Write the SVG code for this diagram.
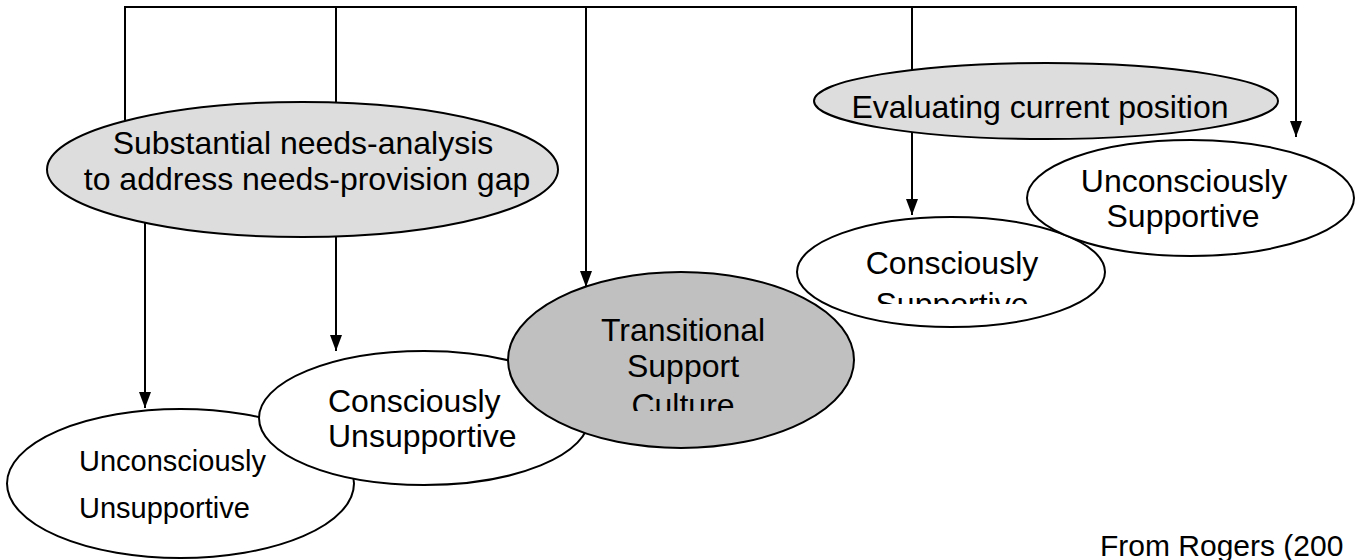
<svg xmlns="http://www.w3.org/2000/svg" width="1355" height="560" viewBox="0 0 1355 560">
<style>
.ln{fill:none;stroke:#000;stroke-width:2}
.el{stroke:#000;stroke-width:2}
.w{fill:#fff}
.g1{fill:#dddddd}
.g2{fill:#c0c0c0}
text{font-family:"Liberation Sans",Arial,Helvetica,sans-serif;fill:#000}
.t32{font-size:32px}
.t29{font-size:29px}
.t30{font-size:30px}
.c{text-anchor:middle}
</style>
<defs>
<marker id="arr" markerUnits="userSpaceOnUse" viewBox="0 0 16 12" markerWidth="16" markerHeight="12" refX="16" refY="6" orient="auto">
<path d="M0,0 L16,6 L0,12 z" fill="#000"/>
</marker>
<clipPath id="clipCulture"><rect x="500" y="380" width="360" height="31"/></clipPath>
<clipPath id="clipSupp"><rect x="800" y="280" width="300" height="24"/></clipPath>
</defs>
<rect width="1355" height="560" fill="#fff"/>
<g id="connectors">
<path class="ln" d="M125,120 V7 H1296 V137" marker-end="url(#arr)"/>
<path class="ln" d="M336,7 V110"/>
<path class="ln" d="M586,7 V287" marker-end="url(#arr)"/>
<path class="ln" d="M912,7 V215" marker-end="url(#arr)"/>
<path class="ln" d="M145,200 V408" marker-end="url(#arr)"/>
<path class="ln" d="M336,220 V351" marker-end="url(#arr)"/>
</g>
<g id="node-unconsciously-unsupportive">
<ellipse class="el w" cx="180.5" cy="483.5" rx="173.5" ry="74.5"/>
<text class="t29" x="79" y="471">Unconsciously</text>
<text class="t29" x="79" y="518">Unsupportive</text>
</g>
<g id="node-consciously-unsupportive">
<ellipse class="el w" cx="424" cy="418" rx="165" ry="67"/>
<text class="t32" x="328" y="412">Consciously</text>
<text class="t32" x="328" y="447">Unsupportive</text>
</g>
<g id="node-transitional">
<ellipse class="el g2" cx="681" cy="360" rx="173" ry="88"/>
<text class="t32 c" x="683" y="341">Transitional</text>
<text class="t32 c" x="683" y="377">Support</text>
<text class="t32 c" x="683" y="416" clip-path="url(#clipCulture)">Culture</text>
</g>
<g id="node-consciously-supportive">
<ellipse class="el w" cx="951" cy="272" rx="154" ry="55"/>
<text class="t32 c" x="952" y="274">Consciously</text>
<text class="t32 c" x="952" y="315" clip-path="url(#clipSupp)">Supportive</text>
</g>
<g id="node-unconsciously-supportive">
<ellipse class="el w" cx="1190.5" cy="198" rx="163.5" ry="58"/>
<text class="t32 c" x="1184" y="192">Unconsciously</text>
<text class="t32 c" x="1183" y="227">Supportive</text>
</g>
<g id="node-needs-analysis">
<ellipse class="el g1" cx="302.5" cy="169.5" rx="255.5" ry="67.5"/>
<text class="t32 c" x="303" y="154">Substantial needs-analysis</text>
<text class="t32 c" x="307" y="190">to address needs-provision gap</text>
</g>
<g id="node-evaluating">
<ellipse class="el g1" cx="1046" cy="101" rx="232" ry="38"/>
<text class="t32 c" x="1040" y="118">Evaluating current position</text>
</g>
<g id="caption">
<text class="t30" x="1100" y="556">From Rogers (200</text>
</g>
</svg>
